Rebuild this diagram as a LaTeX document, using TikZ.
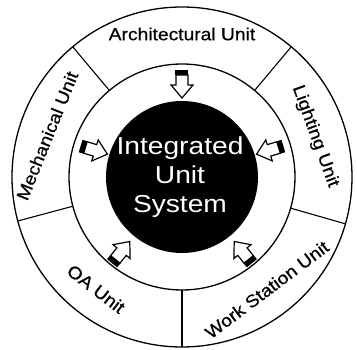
\documentclass[tikz,border=0pt]{standalone}
\usepackage{fontspec}
\newfontfamily\labelfont{Liberation Sans}[FakeStretch=1.1, FakeBold=0.6]
\newfontfamily\corefont{Liberation Sans}[FakeStretch=1.15]
\begin{document}
\begin{tikzpicture}[x=1pt,y=1pt,
  ring/.style={line width=1.3pt},
  divider/.style={line width=1.1pt},
  lab/.style={font=\labelfont\fontsize{17.5}{20}\selectfont, text height=12.5pt, text depth=0pt, inner sep=0pt},
  blockarrow/.pic={
    \fill (-14,-6.5) rectangle (-8.5,6.5);
    \filldraw[fill=white, line width=1.2pt, line join=miter] (-9,-6) -- (1,-6) -- (1,-11) -- (14,0) -- (1,11) -- (1,6) -- (-9,6) -- cycle;
  }]
\useasboundingbox (-182,-173) rectangle (175,177);
\draw[ring] (0,0) circle (170);
\draw[ring] (0,0) circle (113);
\fill[black] (0,0) circle (76);
\foreach \a in {50,130,195,270,344} \draw[divider] (\a:113) -- (\a:170);
\node[lab] (arch) at (90:143) {Architectural Unit};
\node[lab, rotate=68] (mech) at (163:141) {Mechanical Unit};
\node[lab, rotate=-70] (light) at (17:141) {Lighting Unit};
\node[lab, rotate=-37.5] (oa) at (232.5:141) {OA Unit};
\node[lab, rotate=37] (work) at (307:141) {Work Station Unit};
\node[align=center, text=white, font=\corefont\fontsize{24.5}{29}\selectfont, inner sep=0pt] (core) at (-2,0) {Integrated\\Unit\\System};
\pic[rotate=270] at (90:93) {blockarrow};
\pic[rotate=343] at (163:92) {blockarrow};
\pic[rotate=197] at (17:92) {blockarrow};
\pic[rotate=51] at (231:97) {blockarrow};
\pic[rotate=129] at (309:97) {blockarrow};
\end{tikzpicture}
\end{document}
